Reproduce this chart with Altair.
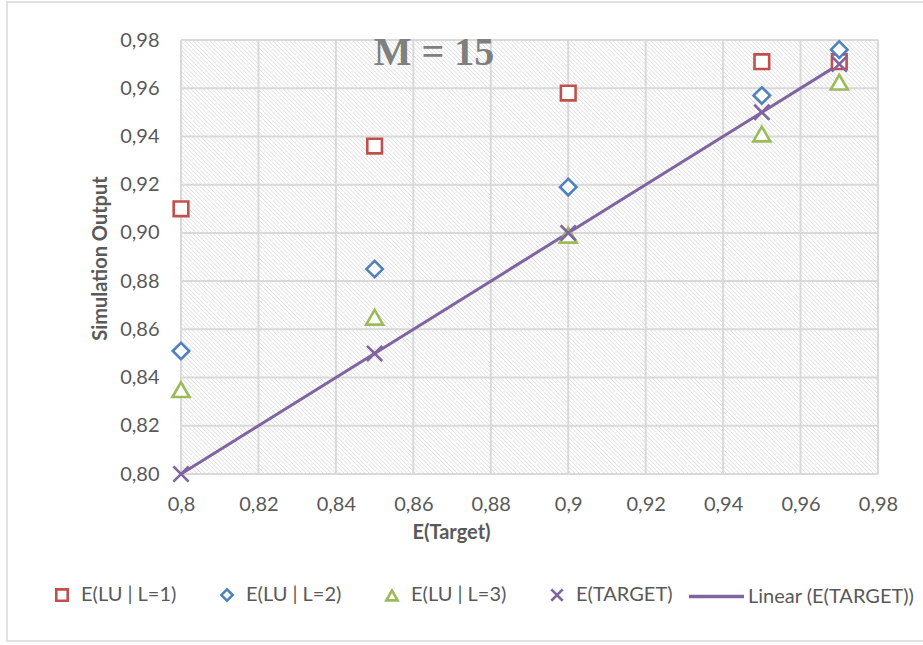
import altair as alt
import pandas as pd

# Expected target values on the x axis and the simulated outputs per level
e_target = [0.80, 0.85, 0.90, 0.95, 0.97]
lu_l1 = [0.910, 0.936, 0.958, 0.971, 0.971]
lu_l2 = [0.851, 0.885, 0.919, 0.957, 0.976]
lu_l3 = [0.835, 0.865, 0.899, 0.941, 0.9625]
target_out = [0.80, 0.85, 0.90, 0.95, 0.97]

series_names = ["E(LU | L=1)", "E(LU | L=2)", "E(LU | L=3)", "E(TARGET)"]
series_colors = ["#C0504D", "#4F81BD", "#9BBB59", "#8064A2"]
series_shapes = ["square", "diamond", "triangle-up", "M-1,-1L1,1M-1,1L1,-1"]
series_sizes = [215, 270, 290, 230]
trend_name = "Linear (E(TARGET))"

tick_values = [0.80, 0.82, 0.84, 0.86, 0.88, 0.90, 0.92, 0.94, 0.96, 0.98]

W, H = 697, 434
LEFT, TOP = 181, 40
X_DOM = [0.80, 0.98]
Y_DOM = [0.80, 0.98]

LABEL_FONT = "Lato"
TEXT_GREY = "#595959"
GRID_GREY = "#d9d9d9"

rows = []
for name, vals in zip(series_names, [lu_l1, lu_l2, lu_l3, target_out]):
    for xv, yv in zip(e_target, vals):
        rows.append({"x": xv, "y": yv, "series": name})
points_df = pd.DataFrame(rows)
target_df = pd.DataFrame({"x": e_target, "y": target_out})
ticks_df = pd.DataFrame({"t": tick_values})
one_row = pd.DataFrame({"k": [0]})

x_scale = alt.Scale(domain=X_DOM, nice=False, zero=False)
y_scale = alt.Scale(domain=Y_DOM, nice=False, zero=False)

x_axis = alt.Axis(
    values=tick_values, grid=False, domain=False, ticks=False, labelFlush=False,
    labelExpr="replace(format(datum.value, '.2~f'), '.', ',')",
    labelFont=LABEL_FONT, labelFontSize=20, labelColor=TEXT_GREY, labelPadding=20,
    title="E(Target)", titleFont=LABEL_FONT, titleFontSize=20, titleFontWeight="bold",
    titleColor=TEXT_GREY, titleX=270, titleY=58, titleAlign="center", titleBaseline="middle",
)
y_axis = alt.Axis(
    values=tick_values, grid=False, domain=False, ticks=False, labelFlush=False,
    labelExpr="replace(format(datum.value, '.2f'), '.', ',')",
    labelFont=LABEL_FONT, labelFontSize=20, labelColor=TEXT_GREY, labelPadding=22,
    title="Simulation Output", titleFont=LABEL_FONT, titleFontSize=20, titleFontWeight="bold",
    titleColor=TEXT_GREY, titleX=-81, titleY=218, titleAlign="center", titleBaseline="middle",
    titleAngle=270,
)

X = lambda f: alt.X(f, type="quantitative", scale=x_scale, axis=x_axis)
Y = lambda f: alt.Y(f, type="quantitative", scale=y_scale, axis=y_axis)

# Diagonal hatch over the plot area, one rule per stripe at 45 degrees
x_span = X_DOM[1] - X_DOM[0]
run = H / W * x_span          # x distance covered while descending the full height
step = 4.2 / W * x_span       # stripe spacing
n_lines = int((x_span + run) / step) + 2
hatch = (
    alt.Chart(alt.sequence(0, n_lines, as_="i"))
    .transform_calculate(
        hx0=f"{X_DOM[0] - run} + datum.i * {step}",
        hx1=f"{X_DOM[0]} + datum.i * {step}",
        hy0=f"{Y_DOM[1]}",
        hy1=f"{Y_DOM[0]}",
    )
    .mark_rule(clip=True, stroke="#dcdcdc", strokeWidth=1)
    .encode(x=X("hx0"), x2="hx1:Q", y=Y("hy0"), y2="hy1:Q")
)

vgrid = alt.Chart(ticks_df).mark_rule(stroke=GRID_GREY, strokeWidth=2).encode(x=X("t"))
hgrid = alt.Chart(ticks_df).mark_rule(stroke=GRID_GREY, strokeWidth=2).encode(y=Y("t"))

trend = (
    alt.Chart(target_df)
    .transform_regression("x", "y", method="linear")
    .transform_calculate(fit=f"'{trend_name}'")
    .mark_line(strokeWidth=3)
    .encode(
        x=X("x"), y=Y("y"),
        color=alt.Color(
            "fit:N",
            scale=alt.Scale(domain=[trend_name], range=["#8064A2"]),
            legend=alt.Legend(
                title=None, orient="none", legendX=506, legendY=527,
                symbolType="stroke", symbolSize=3025, symbolStrokeWidth=3.5,
                labelFont=LABEL_FONT, labelFontSize=20, labelColor=TEXT_GREY,
                labelOffset=2, labelLimit=400, padding=0,
            ),
        ),
    )
)

# One shared legend for stroke and shape of the marker series
series_legend = alt.Legend(
    title=None, orient="none", legendX=-129, legendY=545,
    direction="horizontal", columns=4, gridAlign="all", columnPadding=38,
    symbolSize=130, symbolStrokeWidth=2.6, symbolFillColor="white",
    labelFont=LABEL_FONT, labelFontSize=20, labelColor=TEXT_GREY,
    labelOffset=9, labelLimit=400, padding=0,
)


def marker_layer(name, size):
    return (
        alt.Chart(points_df)
        .transform_filter(alt.datum.series == name)
        .mark_point(filled=True, strokeWidth=2.6, opacity=1, size=size)
        .encode(
            x=X("x"), y=Y("y"),
            fill=alt.value("white"),
            stroke=alt.Stroke(
                "series:N",
                scale=alt.Scale(domain=series_names, range=series_colors),
                legend=series_legend,
            ),
            shape=alt.Shape(
                "series:N",
                scale=alt.Scale(domain=series_names, range=series_shapes),
                legend=series_legend,
            ),
        )
    )


markers = [marker_layer(n, s) for n, s in zip(series_names, series_sizes)]

label_m = (
    alt.Chart(one_row)
    .mark_text(font="Liberation Serif", fontWeight="bold", fontSize=40,
               color="#7f7f7f", align="center", baseline="alphabetic")
    .encode(x=alt.value(253), y=alt.value(25), text=alt.value("M = 15"))
)

frame = (
    alt.Chart(one_row)
    .mark_rect(fill=None, stroke="#d9d9d9", strokeWidth=1.5)
    .encode(x=alt.value(7 - LEFT), x2=alt.value(940 - LEFT),
            y=alt.value(2 - TOP), y2=alt.value(641 - TOP))
)

chart = (
    alt.layer(frame, hatch, vgrid, hgrid, trend, *markers, label_m)
    .resolve_scale(x="shared", y="shared")
    .properties(
        width=W, height=H,
        padding={"left": LEFT, "top": TOP, "right": 923 - LEFT - W, "bottom": 645 - TOP - H},
        autosize=alt.AutoSizeParams(type="none"),
        background="white",
    )
    .configure_view(stroke=None)
)

chart.save("out.html", embed_options={"renderer": "svg", "actions": False})
